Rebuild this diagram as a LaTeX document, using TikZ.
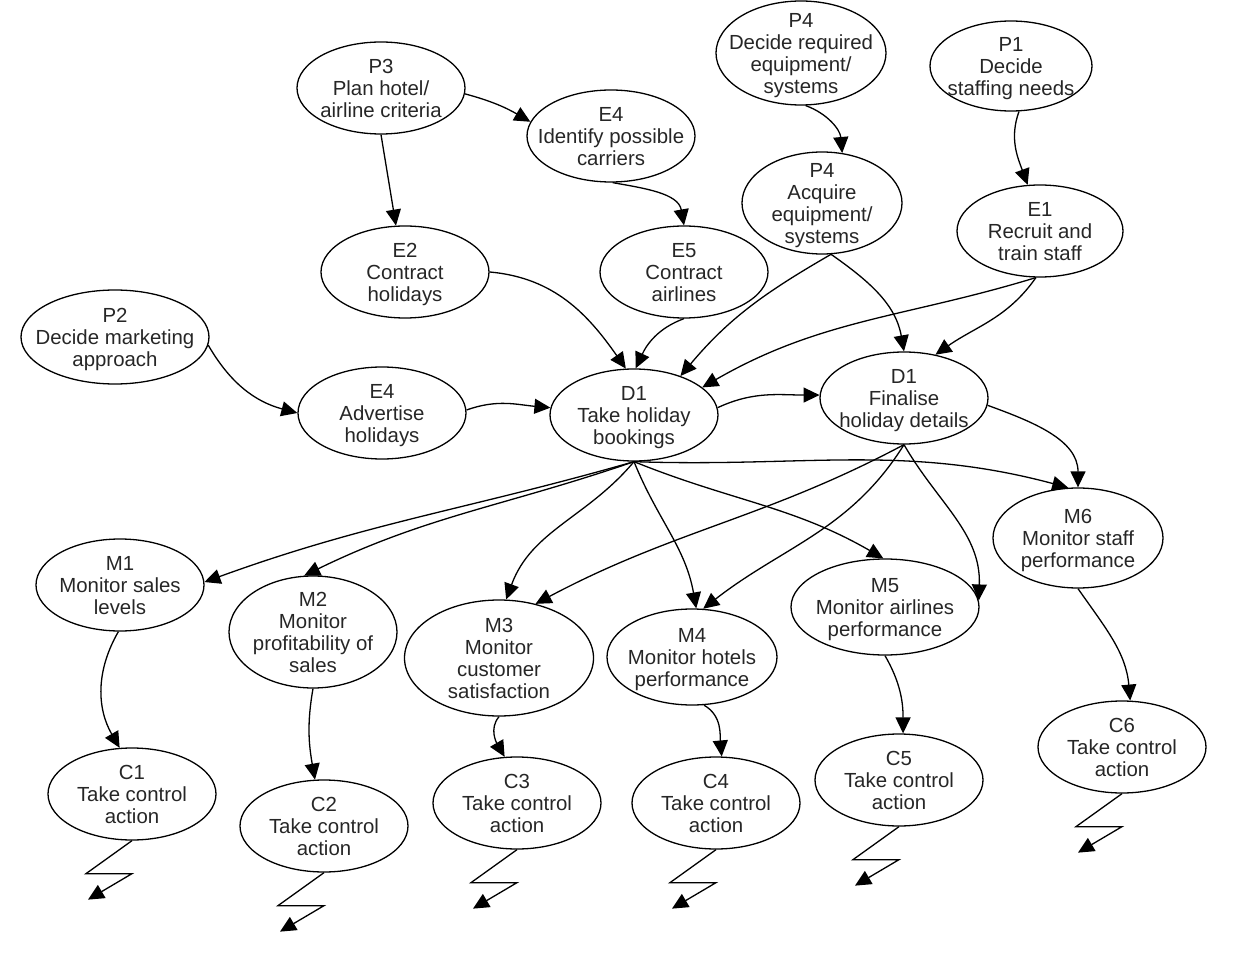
\documentclass[tikz,border=0pt]{standalone}
\usepackage{fontspec}
\setmainfont{Liberation Sans}
\usetikzlibrary{shapes.geometric,arrows.meta}
\begin{document}
\begin{tikzpicture}[x=0.5pt,y=0.5pt,
  ell/.style={draw, ellipse, line width=0.65pt, inner xsep=-60pt, inner ysep=-40pt,
    minimum width=84pt, minimum height=46pt, align=center, text=black!85, text depth=0pt,
    font=\fontsize{10.2}{11}\selectfont},
  arr/.style={-{Triangle[length=8pt,width=7.5pt]}, line width=0.65pt}]
\useasboundingbox (0,0) rectangle (1248,955);
% nodes
\node[ell] (P3) at (381,867) {P3\\Plan hotel/\\airline criteria};
\node[ell] (E4i) at (611,819) {E4\\Identify possible\\carriers};
\node[ell, minimum width=85pt, minimum height=52pt] (P4d) at (801,902) {P4\\Decide required\\equipment/\\systems};
\node[ell, minimum width=81pt, minimum height=45pt] (P1) at (1011,889) {P1\\Decide\\staffing needs};
\node[ell, minimum width=80pt, minimum height=51pt] (P4a) at (822,752) {P4\\Acquire\\equipment/\\systems};
\node[ell, minimum width=83pt] (E1) at (1040,724) {E1\\Recruit and\\train staff};
\node[ell] (E2) at (405,683) {E2\\Contract\\holidays};
\node[ell] (E5) at (684,683) {E5\\Contract\\airlines};
\node[ell, minimum width=94pt, minimum height=47pt] (P2) at (115,618) {P2\\Decide marketing\\approach};
\node[ell] (E4a) at (382,542) {E4\\Advertise\\holidays};
\node[ell] (D1t) at (634,540) {D1\\Take holiday\\bookings};
\node[ell] (D1f) at (904,557) {D1\\Finalise\\holiday details};
\node[ell, minimum width=85pt, minimum height=50pt] (M6) at (1078,417) {M6\\Monitor staff\\performance};
\node[ell] (M1) at (120,370) {M1\\Monitor sales\\levels};
\node[ell, minimum height=56pt] (M2) at (313,323) {M2\\Monitor\\profitability of\\sales};
\node[ell, minimum width=94.5pt, minimum height=58pt] (M3) at (499,297) {M3\\Monitor\\customer\\satisfaction};
\node[ell, minimum width=85pt, minimum height=48pt] (M4) at (692,298) {M4\\Monitor hotels\\performance};
\node[ell, minimum width=94pt, minimum height=48pt] (M5) at (885,348) {M5\\Monitor airlines\\performance};
\node[ell] (C1) at (132,161) {C1\\Take control\\action};
\node[ell] (C2) at (324,129) {C2\\Take control\\action};
\node[ell] (C3) at (517,152) {C3\\Take control\\action};
\node[ell] (C4) at (716,152) {C4\\Take control\\action};
\node[ell] (C5) at (899,175) {C5\\Take control\\action};
\node[ell] (C6) at (1122,208) {C6\\Take control\\action};
% connectors
\draw[arr] (P3.-4) to[out=-15,in=150] (E4i.170);
\draw[arr] (P3.-90) -- (E2.101);
\draw[arr] (E4i.-88) to[out=-10,in=100] (E5.90);
\draw[arr] (P4d.-85) to[out=-20,in=95] (P4a.68);
\draw[arr] (P1.-80) to[out=-110,in=110] (E1.105);
\draw[arr] (E2.0) to[out=-5,in=125] (D1t.100);
\draw[arr] (E5.-90) to[out=-160,in=65] (D1t.88);
\draw[arr] (P4a.-80) to[out=-150,in=50] (D1t.40);
\draw[arr] (P4a.-80) to[out=-35,in=100] (D1f.90);
\draw[arr] (E1.-95) to[out=-125,in=35] (D1f.54);
\draw[arr] (E1.-95) to[out=-163,in=30] (D1t.22);
\draw[arr] (P2.-5) to[out=-60,in=165] (E4a.180);
\draw[arr] (E4a.2) to[out=20,in=175] (D1t.175);
\draw[arr] (D1t.5) to[out=25,in=180] (D1f.178);
\draw[arr] (D1t.-90) to[out=-164,in=20] (M1.2);
\draw[arr] (D1t.-90) to[out=-161,in=26] (M2.99);
\draw[arr] (D1t.-90) to[out=-130,in=70] (M3.83);
\draw[arr] (D1t.-90) to[out=-68,in=100] (M4.85);
\draw[arr] (D1t.-90) to[out=-22,in=150] (M5.92);
\draw[arr] (D1t.-90) to[out=-2,in=165] (M6.101);
\draw[arr] (D1f.-90) to[out=-152,in=28] (M3.56);
\draw[arr] (D1f.-90) to[out=-122,in=38] (M4.77);
\draw[arr] (D1f.-90) to[out=-60,in=88] (M5.4);
\draw[arr] (D1f.-5) to[out=-20,in=90] (M6.90);
\draw[arr] (M1.-92) to[out=-120,in=120] (C1.105);
\draw[arr] (M2.-90) to[out=-100,in=100] (C2.101);
\draw[arr] (M3.-90) to[out=-130,in=120] (C3.105);
\draw[arr] (M4.-76) to[out=-30,in=95] (C4.83);
\draw[arr] (M5.-90) to[out=-60,in=90] (C5.85);
\draw[arr] (M6.-90) to[out=-55,in=95] (C6.80);
% lightning arrows
\foreach \c in {C1,C2,C3,C4,C5,C6}
  \draw[arr] (\c.south) -- ++(-46,-33) -- ++(46,0) -- ++(-44,-26);
\end{tikzpicture}
\end{document}
